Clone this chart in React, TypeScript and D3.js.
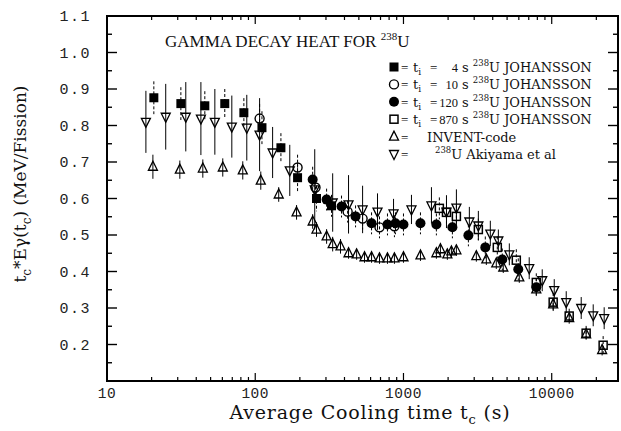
import React from "react";
import * as d3 from "d3";

const W = 621;
const H = 431;

// Johansson, t_i = 4 s  (filled squares)
const j4Time = [20.7, 31.5, 45.7, 62.3, 83.8, 111, 149, 193, 259, 327];
const j4Val = [0.876, 0.86, 0.854, 0.86, 0.835, 0.794, 0.739, 0.657, 0.6, 0.58];
const j4Err = [0.045, 0.045, 0.04, 0.04, 0.04, 0.045, 0.04, 0.04, 0.035, 0.03];

// Johansson, t_i = 10 s  (open circles)
const j10Time = [107, 193, 255, 420, 530, 689, 869];
const j10Val = [0.819, 0.685, 0.63, 0.564, 0.545, 0.521, 0.524];
const j10Err = [0.04, 0.035, 0.03, 0.03, 0.03, 0.03, 0.03];

// Johansson, t_i = 120 s  (filled circles)
const j120Time = [244, 303, 382, 475, 609, 780, 883, 1000, 1302, 1667, 2138, 2741, 3565, 4642, 5947, 7870];
const j120Val = [0.652, 0.597, 0.578, 0.551, 0.532, 0.529, 0.532, 0.529, 0.532, 0.529, 0.521, 0.499, 0.466, 0.433, 0.406, 0.357];
const j120Err = [0.035, 0.03, 0.03, 0.03, 0.03, 0.03, 0.03, 0.03, 0.03, 0.03, 0.03, 0.03, 0.03, 0.03, 0.03, 0.025];

// Johansson, t_i = 870 s  (open squares)
const j870Time = [1746, 1950, 2275, 3200, 4295, 5770, 7870, 10230, 13120, 17070, 22230];
const j870Val = [0.573, 0.562, 0.551, 0.515, 0.466, 0.431, 0.37, 0.316, 0.278, 0.231, 0.198];
const j870Err = [0.03, 0.03, 0.03, 0.03, 0.03, 0.03, 0.025, 0.025, 0.02, 0.02, 0.025];

// INVENT-code  (up triangles)
const invTime = [20.4, 31, 44.3, 60.4, 82.4, 109, 144, 190, 244, 259, 303, 333, 376, 426, 483, 546, 609, 689, 780, 869, 1000, 1302, 1667, 1775, 1977, 2105, 2275, 3101, 3622, 4228, 4712, 6043, 7870, 10230, 13120, 17070, 21880];
const invVal = [0.687, 0.679, 0.682, 0.685, 0.677, 0.649, 0.611, 0.562, 0.537, 0.515, 0.496, 0.475, 0.469, 0.45, 0.447, 0.439, 0.439, 0.436, 0.436, 0.436, 0.439, 0.444, 0.45, 0.461, 0.447, 0.455, 0.458, 0.442, 0.433, 0.422, 0.411, 0.384, 0.351, 0.31, 0.272, 0.228, 0.185];
const invErr = [0.033, 0.025, 0.025, 0.025, 0.025, 0.025, 0.02, 0.02, 0.02, 0.02, 0.02, 0.02, 0.02, 0.015, 0.015, 0.015, 0.015, 0.015, 0.015, 0.015, 0.015, 0.015, 0.015, 0.015, 0.015, 0.015, 0.015, 0.015, 0.015, 0.015, 0.015, 0.015, 0.015, 0.015, 0.015, 0.015, 0.015];

// 238U Akiyama et al  (down triangles)
const akiTime = [18.3, 24.9, 34, 43, 53.4, 69.5, 87.7, 107, 131, 171, 252, 333, 426, 530, 668, 857, 1132, 1544, 1950, 2275, 2782, 3200, 3853, 4365, 5176, 7050, 8630, 10400, 12530, 15810, 19050, 22590];
const akiVal = [0.81, 0.824, 0.824, 0.819, 0.81, 0.797, 0.794, 0.775, 0.726, 0.677, 0.625, 0.589, 0.584, 0.57, 0.564, 0.559, 0.57, 0.581, 0.564, 0.575, 0.537, 0.526, 0.504, 0.485, 0.447, 0.409, 0.376, 0.349, 0.316, 0.3, 0.28, 0.272];
const akiErr = [0.085, 0.09, 0.095, 0.1, 0.09, 0.085, 0.09, 0.1, 0.07, 0.07, 0.11, 0.08, 0.08, 0.065, 0.05, 0.04, 0.04, 0.05, 0.045, 0.05, 0.04, 0.04, 0.035, 0.03, 0.03, 0.03, 0.03, 0.03, 0.03, 0.03, 0.03, 0.03];

const xTickLabels = ["10", "100", "1000", "10000"];
const yTickLabels = ["0.2", "0.3", "0.4", "0.5", "0.6", "0.7", "0.8", "0.9", "1.0", "1.1"];

const x = d3.scaleLog().domain([10, 28000]).range([107, 618]);
const y = d3.scaleLinear().domain([0.1, 1.1]).range([381, 16]);

const series = [
  { kind: "fsq", t: j4Time, v: j4Val, e: j4Err, dash: "3,2" },
  { kind: "ocirc", t: j10Time, v: j10Val, e: j10Err, dash: "3,2" },
  { kind: "fcirc", t: j120Time, v: j120Val, e: j120Err, dash: "3,2" },
  { kind: "osq", t: j870Time, v: j870Val, e: j870Err, dash: "3,2" },
  { kind: "tri", t: invTime, v: invVal, e: invErr, dash: "" },
  { kind: "itri", t: akiTime, v: akiVal, e: akiErr, dash: "" },
];

function Marker({ kind, cx, cy }: { kind: string; cx: number; cy: number }) {
  switch (kind) {
    case "fsq":
      return <rect x={cx - 4.5} y={cy - 4.5} width={9} height={9} fill="#000" />;
    case "osq":
      return <rect x={cx - 4} y={cy - 4} width={8} height={8} fill="none" stroke="#000" strokeWidth={1.5} />;
    case "fcirc":
      return <circle cx={cx} cy={cy} r={5} fill="#000" />;
    case "ocirc":
      return <circle cx={cx} cy={cy} r={4.5} fill="none" stroke="#000" strokeWidth={1.4} />;
    case "tri":
      return <path d={`M${cx},${cy - 5.5}L${cx - 4.5},${cy + 3.5}L${cx + 4.5},${cy + 3.5}Z`} fill="none" stroke="#000" strokeWidth={1.3} />;
    default:
      return <path d={`M${cx},${cy + 5.5}L${cx - 4.5},${cy - 3.5}L${cx + 4.5},${cy - 3.5}Z`} fill="none" stroke="#000" strokeWidth={1.3} />;
  }
}

const legendRows = [
  { kind: "fsq", num: "4" },
  { kind: "ocirc", num: "10" },
  { kind: "fcirc", num: "120" },
  { kind: "osq", num: "870" },
];

export default function App() {
  const [x0, x1] = x.range();
  const [y0, y1] = y.range();
  const xTicks = x.ticks();
  const yTicks = d3.range(0.1, 1.1001, 0.05);
  const isMajorX = (d: number) => Math.abs(Math.log10(d) - Math.round(Math.log10(d))) < 1e-6;
  const isMajorY = (d: number) => Math.abs(d * 10 - Math.round(d * 10)) < 1e-6;
  const tickFont = "'Liberation Mono', monospace";
  const serif = "'DejaVu Serif', serif";
  const lib = "'Liberation Serif', serif";
  const legY = (i: number) => 72 + i * 17.4;

  return (
    <svg width={W} height={H} style={{ position: "absolute", left: 0, top: 0, background: "#fff" }}>
      {/* frame */}
      <rect x={x0} y={y1} width={x1 - x0} height={y0 - y1} fill="none" stroke="#000" strokeWidth={2} />

      {xTicks.map((d, i) => {
        const len = isMajorX(d) ? 8 : 4;
        return (
          <g key={"xt" + i} stroke="#000" strokeWidth={1.2}>
            <line x1={x(d)} x2={x(d)} y1={y0} y2={y0 - len} />
            <line x1={x(d)} x2={x(d)} y1={y1} y2={y1 + len} />
          </g>
        );
      })}
      {yTicks.map((d, i) => {
        const len = isMajorY(d) ? 10 : 5;
        return (
          <g key={"yt" + i} stroke="#000" strokeWidth={1.4}>
            <line x1={x0} x2={x0 + len} y1={y(d)} y2={y(d)} />
            <line x1={x1} x2={x1 - len} y1={y(d)} y2={y(d)} />
          </g>
        );
      })}

      {yTickLabels.map((s) => (
        <text key={s} x={91} y={y(+s)} dy="0.35em" textAnchor="end" fontFamily={tickFont} fontSize={15} letterSpacing={1.5} fill="#222">
          {s}
        </text>
      ))}
      {xTickLabels.map((s) => (
        <text key={s} x={x(+s)} y={398} textAnchor="middle" fontFamily={tickFont} fontSize={14.5} letterSpacing={0.5} fill="#222">
          {s}
        </text>
      ))}

      {/* axis titles */}
      <text x={370} y={419} textAnchor="middle" fontFamily={serif} fontSize={19} letterSpacing={0.8} fill="#111">
        Average Cooling time t<tspan fontSize={13} dy={5}>c</tspan>
        <tspan dy={-5}> (s)</tspan>
      </text>
      <text transform="translate(26,184) rotate(-90)" textAnchor="middle" fontFamily={serif} fontSize={17} fill="#111">
        t<tspan fontSize={12} dy={5}>c</tspan>
        <tspan dy={-5}>*Eγ(t</tspan>
        <tspan fontSize={12} dy={5}>c</tspan>
        <tspan dy={-5}>) (MeV/Fission)</tspan>
      </text>

      {/* chart title */}
      <text x={165} y={47} fontFamily={lib} fontSize={17} fill="#111">
        GAMMA DECAY HEAT FOR <tspan fontSize={11} dy={-7}>238</tspan>
        <tspan dy={7}>U</tspan>
      </text>

      {/* error bars */}
      {series.map((s, si) =>
        s.t.map((t, i) => (
          <line
            key={`e${si}-${i}`}
            x1={x(t)}
            x2={x(t)}
            y1={y(s.v[i] + s.e[i])}
            y2={y(s.v[i] - s.e[i])}
            stroke="#000"
            strokeWidth={1}
            strokeDasharray={s.dash || undefined}
          />
        ))
      )}
      {/* markers */}
      {series.map((s, si) =>
        s.t.map((t, i) => <Marker key={`m${si}-${i}`} kind={s.kind} cx={x(t)} cy={y(s.v[i])} />)
      )}

      {/* legend */}
      <g fontFamily={serif} fontSize={13} fill="#111">
        {legendRows.map((r, i) => {
          const by = legY(i);
          return (
            <g key={r.kind}>
              <Marker kind={r.kind} cx={394} cy={by - 5} />
              <text x={401} y={by} fontFamily={lib}>=</text>
              <text x={413} y={by}>
                t<tspan fontSize={9} dy={3}>i</tspan>
              </text>
              <text x={430} y={by} fontFamily={lib}>=</text>
              <text x={458} y={by} textAnchor="end" fontFamily={lib} fontSize={12.5}>{r.num}</text>
              <text x={462} y={by}>
                s <tspan fontSize={8.5} dy={-6}>238</tspan>
                <tspan dy={6}>U JOHANSSON</tspan>
              </text>
            </g>
          );
        })}
        <Marker kind="tri" cx={394} cy={legY(4) - 5} />
        <text x={401} y={legY(4)} fontFamily={lib}>=</text>
        <text x={427} y={legY(4)}>INVENT-code</text>
        <Marker kind="itri" cx={394} cy={legY(5) - 5} />
        <text x={401} y={legY(5)} fontFamily={lib}>=</text>
        <text x={435} y={legY(5)}>
          <tspan fontSize={8.5} dy={-6}>238</tspan>
          <tspan dy={6}>U Akiyama et al</tspan>
        </text>
      </g>
    </svg>
  );
}
